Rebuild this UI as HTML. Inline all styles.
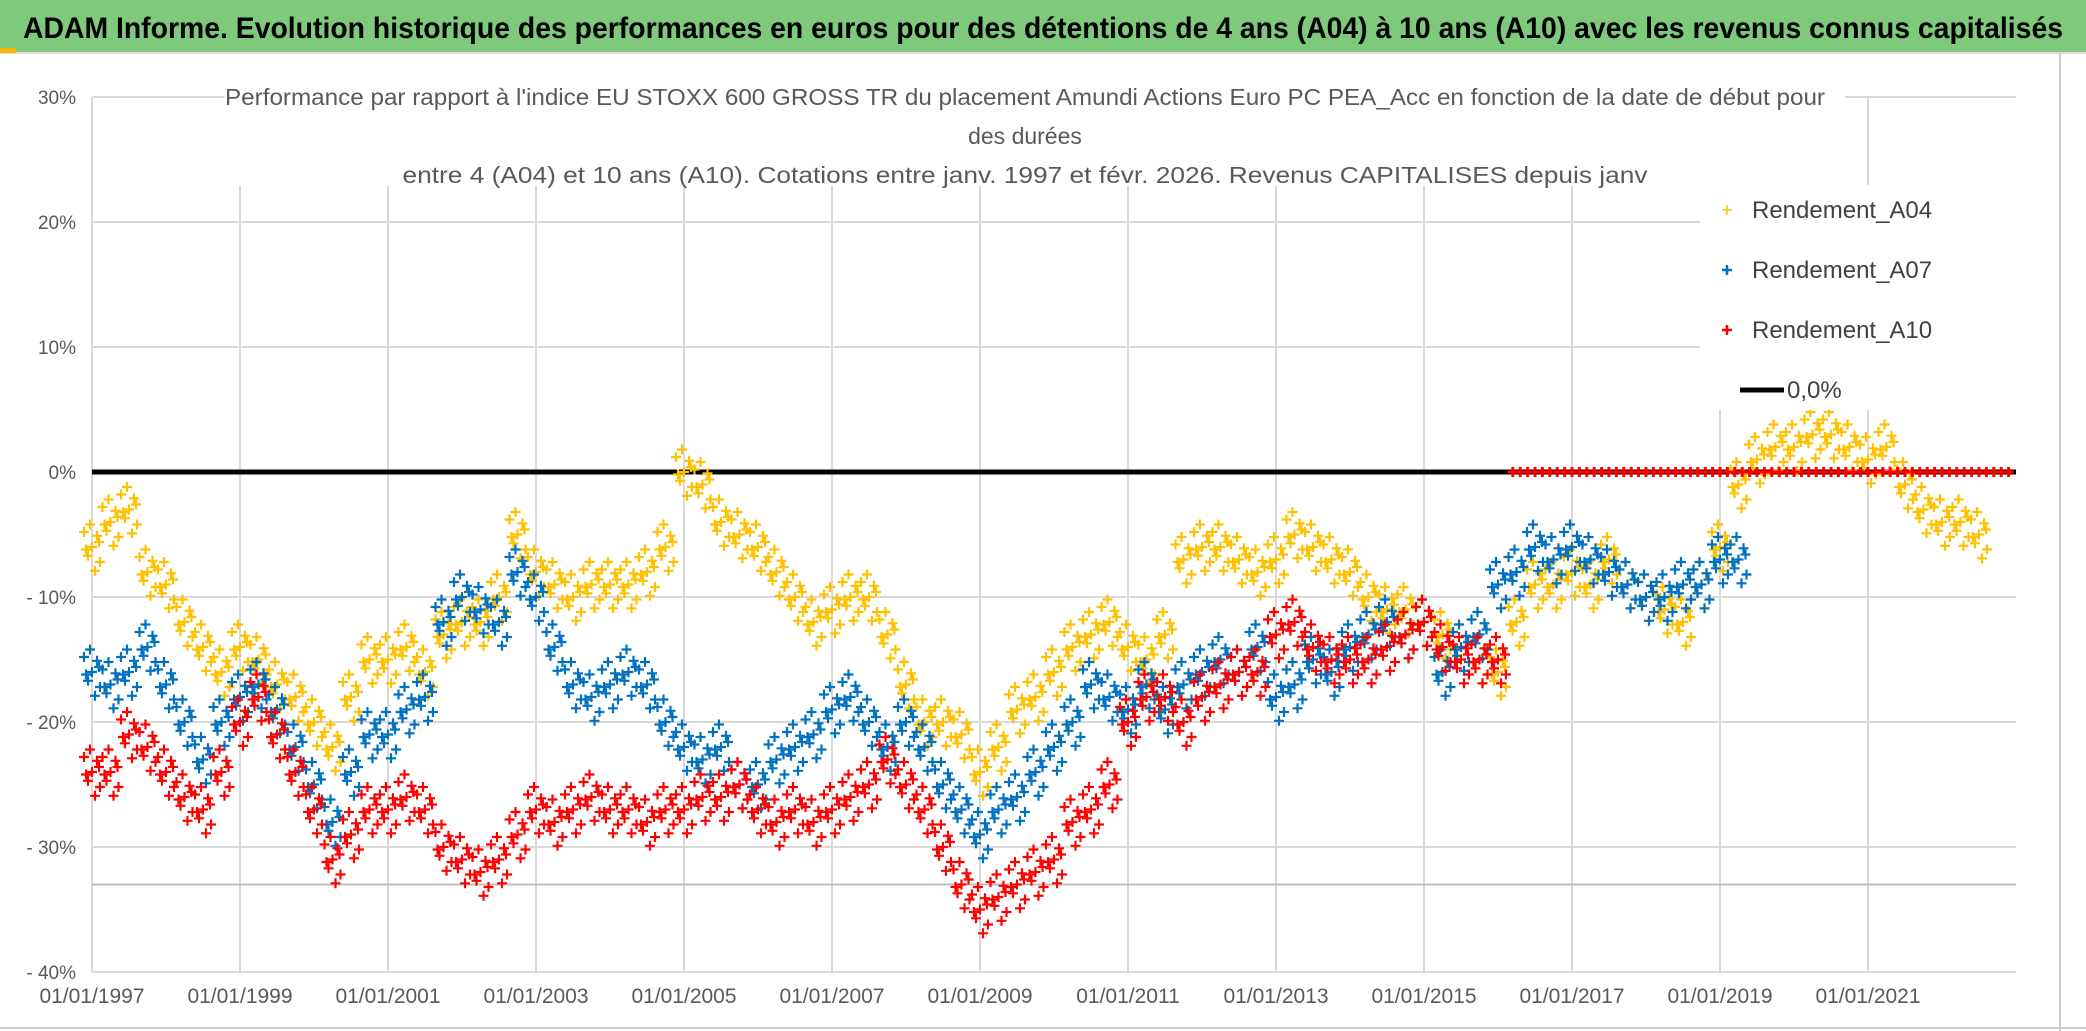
<!DOCTYPE html>
<html><head><meta charset="utf-8"><style>
html,body{margin:0;padding:0;background:#fff;width:2086px;height:1031px;overflow:hidden}
svg{display:block}
</style></head><body>
<svg id="chart" width="2086" height="1031" viewBox="0 0 2086 1031" xmlns="http://www.w3.org/2000/svg" font-family="'Liberation Sans Narrow','Liberation Sans',sans-serif">
<rect x="0" y="0" width="2086" height="1031" fill="#fff"/>
<rect x="0" y="0" width="2086" height="52" fill="#7fc97c"/>
<line x1="0" y1="53" x2="2086" y2="53" stroke="#ddd" stroke-width="2"/>
<rect x="0" y="48" width="16" height="5" fill="#f5b800"/>
<text x="1043" y="38" text-anchor="middle" font-size="30" font-weight="bold" fill="#000" textLength="2040" lengthAdjust="spacingAndGlyphs">ADAM Informe. Evolution historique des performances en euros pour des détentions de 4 ans (A04) à 10 ans (A10) avec les revenus connus capitalisés</text>
<line x1="2060" y1="53" x2="2060" y2="1031" stroke="#ccc" stroke-width="2"/>
<line x1="0" y1="1028" x2="2086" y2="1028" stroke="#ccc" stroke-width="2"/>
<g id="grid"></g>
<g id="marks"></g>
<g id="axes"></g>
<g fill="#595959" font-size="23" text-anchor="middle">
<rect x="225" y="76" width="1620" height="110" fill="#fff"/>
<text x="1025" y="105" textLength="1600" lengthAdjust="spacingAndGlyphs">Performance par rapport à l'indice EU STOXX 600 GROSS TR  du placement Amundi Actions Euro PC PEA_Acc en fonction de la date de début pour</text>
<text x="1025" y="144">des durées</text>
<text x="1025" y="183" textLength="1245" lengthAdjust="spacingAndGlyphs">entre 4 (A04) et 10 ans (A10). Cotations entre janv. 1997 et févr. 2026. Revenus CAPITALISES depuis janv</text>
</g>
<g font-size="24" fill="#404040">
<rect x="1700" y="185" width="330" height="225" fill="#fff"/>
<g><path d="M1722 210h10M1727 205v10" stroke="#FFC000" stroke-width="1.5"/><text x="1752" y="218">Rendement_A04</text></g>
<g><path d="M1722 270h10M1727 265v10" stroke="#0070C0" stroke-width="2.5"/><text x="1752" y="278">Rendement_A07</text></g>
<g><path d="M1722 330h10M1727 325v10" stroke="#FF0000" stroke-width="2.5"/><text x="1752" y="338">Rendement_A10</text></g>
<g><line x1="1740" y1="390" x2="1784" y2="390" stroke="#000" stroke-width="5"/><text x="1787" y="398">0,0%</text></g>
</g>
</svg>
<script>
const yTicks=[30,20,10,0,-10,-20,-30,-40];
const yTickLabels=["30%","20%","10%","0%","- 10%","- 20%","- 30%","- 40%"];
const xTicks=[1997,1999,2001,2003,2005,2007,2009,2011,2013,2015,2017,2019,2021];
const xTickLabels=["01/01/1997","01/01/1999","01/01/2001","01/01/2003","01/01/2005","01/01/2007","01/01/2009","01/01/2011","01/01/2013","01/01/2015","01/01/2017","01/01/2019","01/01/2021"];
const seriesStart=1997.0;
const seriesStep=0.25;
const a04Values=[-6,-4,-3,-8,-9,-12,-14,-16,-14,-15,-17,-18,-20,-22,-18,-15,-15,-14,-16,-13,-12,-12,-10,-5,-8,-9,-10,-9,-9,-9,-8,-6,0,-1,-4,-5,-6,-8,-10,-12,-11,-10,-10,-13,-17,-20,-20,-21,-24,-22,-19,-18,-16,-14,-13,-12,-14,-15,-13,-7,-6,-6,-7,-8,-7,-5,-6,-7,-8,-10,-11,-11,-12,-13,-14,-15,-16,-12,-9,-9,-8,-9,-7,-9,-10,-11,-12,-9,-6,-1,1,2,2,3,3,2,1,2,-1,-3,-4,-4,-5];
const a07Values=[-16,-17,-16,-14,-17,-20,-23,-20,-18,-17,-19,-22,-25,-28,-24,-21,-21,-19,-18,-12,-10,-11,-12,-8,-10,-14,-17,-18,-17,-16,-17,-20,-22,-23,-22,-25,-25,-23,-22,-21,-19,-18,-20,-22,-20,-22,-25,-27,-29,-27,-26,-24,-22,-20,-17,-18,-19,-17,-19,-17,-16,-15,-16,-14,-18,-17,-15,-16,-14,-13,-12,-13,-12,-16,-14,-13,-9,-8,-6,-7,-6,-7,-8,-9,-10,-10,-9,-9,-7,-7];
const a10Values=[-24,-24,-21,-22,-24,-26,-27,-24,-20,-18,-21,-24,-27,-31,-29,-27,-27,-26,-27,-30,-31,-32,-31,-29,-27,-28,-27,-26,-27,-27,-28,-27,-27,-26,-26,-25,-27,-28,-27,-28,-27,-26,-25,-23,-25,-27,-30,-33,-35,-34,-33,-32,-31,-28,-27,-25,-20,-18,-18,-20,-18,-17,-16,-16,-13,-12,-14,-15,-15,-15,-14,-13,-12,-14,-15,-15,-15];
const a10TailStart=2016.2;
const a10TailStep=0.1;
const a10TailValues=[0,0,0,0,0,0,0,0,0,0,0,0,0,0,0,0,0,0,0,0,0,0,0,0,0,0,0,0,0,0,0,0,0,0,0,0,0,0,0,0,0,0,0,0,0,0,0,0,0,0,0,0,0,0,0,0,0,0,0,0,0,0,0,0,0,0,0,0];
const lowerLineValue=-33;
const zeroLineValue=0;

const NS="http://www.w3.org/2000/svg";
const X0=92,X1=2016,YR0=1997,YR1=2023;
const Y_TOP=97,Y_BOT=972,V_TOP=30,V_BOT=-40;
function xs(t){return X0+(t-YR0)*(X1-X0)/(YR1-YR0);}
function ys(v){return Y_TOP+(V_TOP-v)*(Y_BOT-Y_TOP)/(V_TOP-V_BOT);}
function mk(tag,attrs,parent){const e=document.createElementNS(NS,tag);for(const k in attrs)e.setAttribute(k,attrs[k]);parent.appendChild(e);return e;}
const grid=document.getElementById('grid'),axes=document.getElementById('axes'),marks=document.getElementById('marks');
yTicks.forEach((v,i)=>{
  const l=mk('line',{x1:X0,x2:X1,y1:ys(v),y2:ys(v),stroke:'#d9d9d9','stroke-width':2},grid);
  
  
  const t=mk('text',{x:X0-16,y:ys(v)+7,'text-anchor':'end','font-size':19,fill:'#595959'},axes);
  t.textContent=yTickLabels[i];
  
  
});
xTicks.forEach((v,i)=>{
  const l=mk('line',{x1:xs(v),x2:xs(v),y1:Y_TOP,y2:Y_BOT,stroke:'#d9d9d9','stroke-width':2},grid);
  
  
  const t=mk('text',{x:xs(v),y:1003,'text-anchor':'middle','font-size':21,fill:'#595959'},axes);
  t.textContent=xTickLabels[i];
  
  
});
const lowLine=mk('line',{x1:X0,x2:X1,y1:ys(lowerLineValue),y2:ys(lowerLineValue),stroke:'#bfbfbf','stroke-width':2},grid);


const zl=mk('line',{x1:X0,x2:X1,y1:ys(zeroLineValue),y2:ys(zeroLineValue),stroke:'#000','stroke-width':5},marks);


const jit=[[0,0],[-8,1.2],[8,-1.2],[-4,-0.7],[5,0.9],[-2,1.8],[3,-1.9],[-6,-0.2],[7,0.4]];
function drawSeries(vals,start,step,color,name,spread){
  const g=mk('g',{},marks);
  
  
  let d='';
  vals.forEach((v,i)=>{
    const t=start+i*step;
    const js=spread?jit:[[0,0]];
    js.forEach(([dx,dv])=>{
      const cx=xs(t)+dx,cy=ys(v+dv);
      d+=`M${(cx-5).toFixed(1)} ${cy.toFixed(1)}h10M${cx.toFixed(1)} ${(cy-5).toFixed(1)}v10`;
    });
  });
  const p=mk('path',{d:d,stroke:color,'stroke-width':spread?2.2:3,fill:'none'},g);
  
  
}
drawSeries(a04Values,seriesStart,seriesStep,'#FFC000','series-a04',true);
drawSeries(a07Values,seriesStart,seriesStep,'#0070C0','series-a07',true);
drawSeries(a10Values,seriesStart,seriesStep,'#FF0000','series-a10',true);
drawSeries(a10TailValues,a10TailStart,a10TailStep,'#FF0000','series-a10-tail',false);
</script>
</body></html>
